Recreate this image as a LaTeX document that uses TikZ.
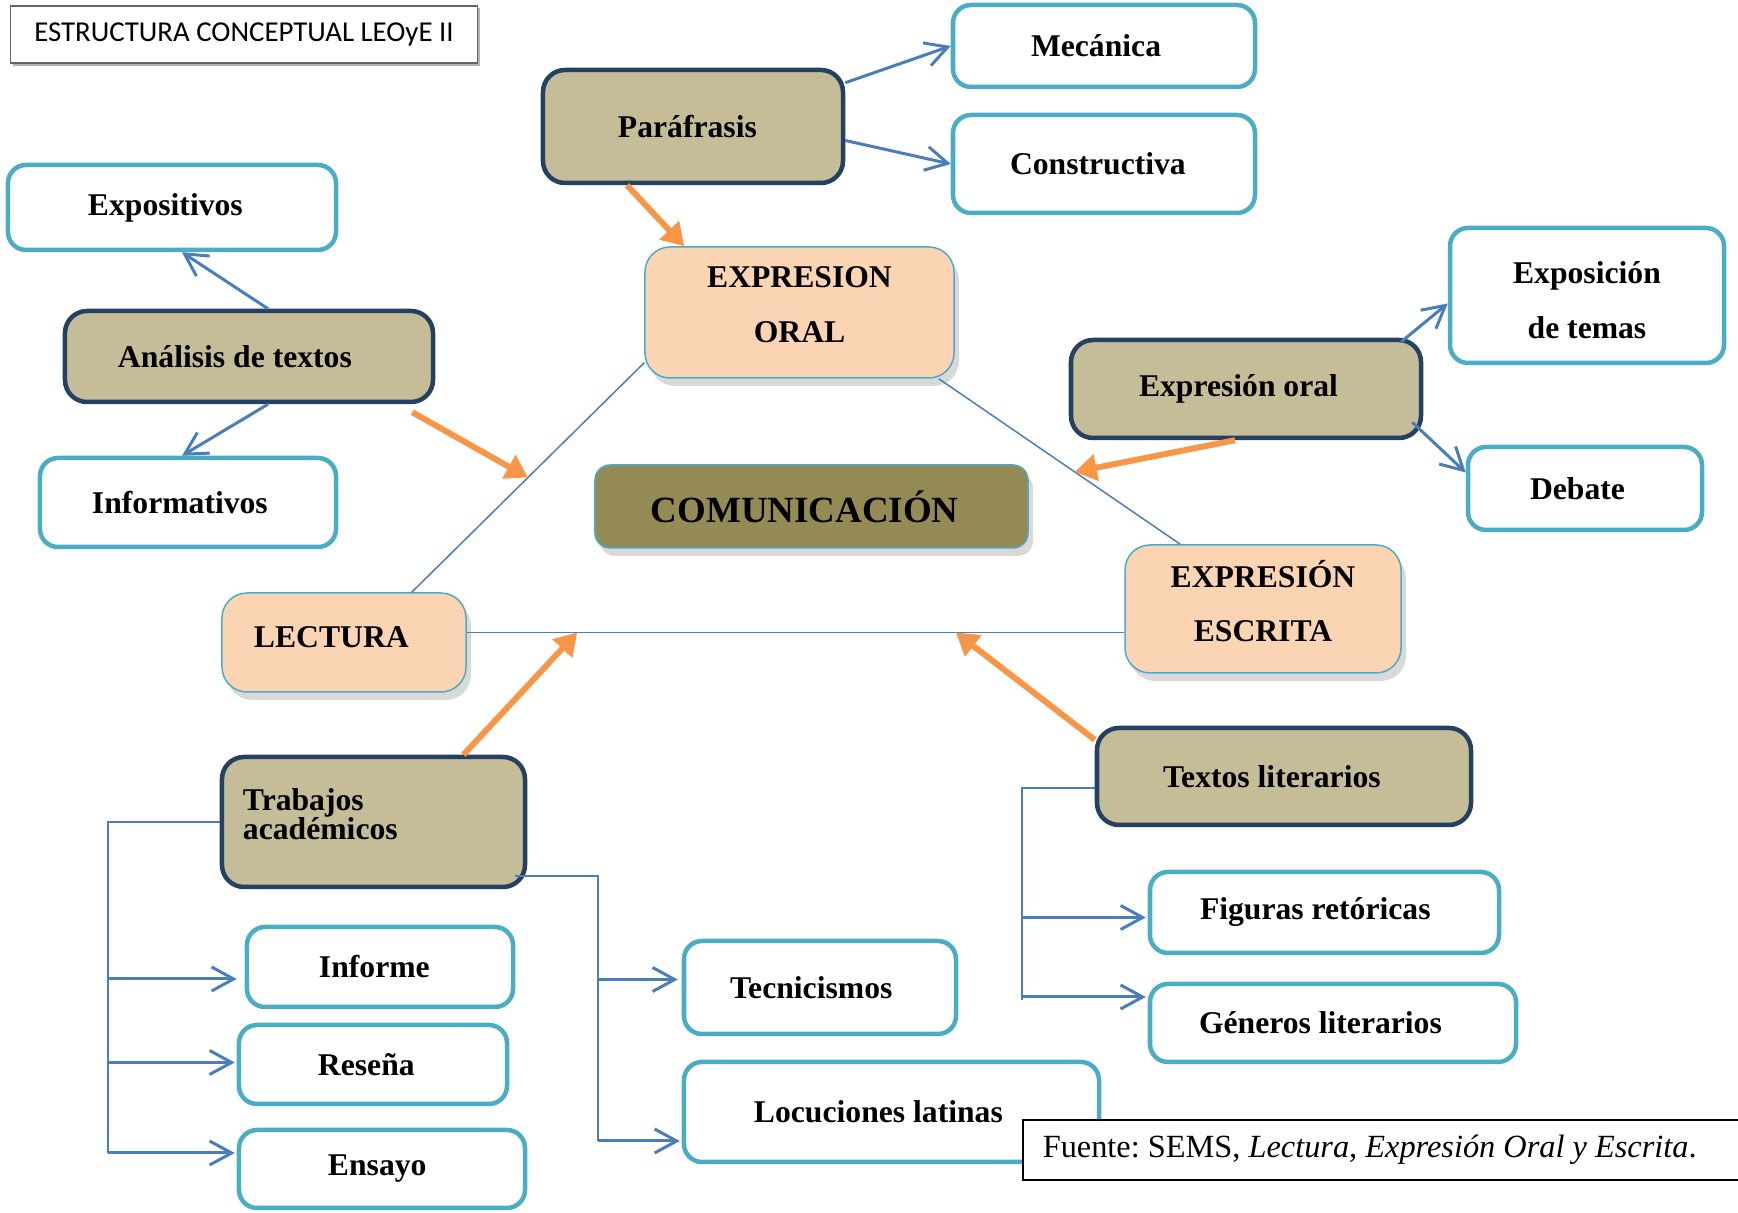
\documentclass[tikz,border=0pt]{standalone}
\usepackage{fontspec}
\setmainfont{Liberation Serif}
\newfontfamily\titleFont{Carlito}
\usepackage{tikz}
\usetikzlibrary{positioning,calc,shadows,arrows.meta}
\definecolor{leafBlue}{RGB}{75,172,198}
\definecolor{tanFill}{RGB}{196,189,151}
\definecolor{navyLine}{RGB}{36,64,98}
\definecolor{peachFill}{RGB}{251,212,180}
\definecolor{oliveFill}{RGB}{148,138,84}
\definecolor{lineBlue}{RGB}{74,126,187}
\definecolor{arrowOrange}{RGB}{247,150,70}
\tikzstyle{diagram} = [x = 0.01cm, y = -0.01cm]
\tikzstyle{boxText} = [font=\fontsize{9}{11}\selectfont\bfseries, align=flush left, inner sep=0pt]
\tikzstyle{twoLines} = [font=\fontsize{9}{15.6}\selectfont\bfseries, align=flush center]
\tikzstyle{raiseText} = [text depth=20.2pt]
\tikzstyle{leafStyle} = [boxText, draw=leafBlue, fill=white, line width=0.045cm, rounded corners=0.18cm]
\tikzstyle{topicStyle} = [boxText, draw=navyLine, fill=tanFill, line width=0.045cm, rounded corners=0.22cm]
\tikzstyle{skillStyle} = [boxText, draw=leafBlue, fill=peachFill, line width=0.015cm, rounded corners=0.25cm, drop shadow={opacity=0.3, shadow xshift=0.05cm, shadow yshift=-0.08cm}]
\tikzstyle{centerStyle} = [skillStyle, fill=oliveFill, font=\fontsize{10.5}{12}\selectfont\bfseries, rounded corners=0.15cm]
\tikzstyle{triLine} = [draw=lineBlue, line width=0.015cm]
\tikzstyle{bracketLine} = [draw=lineBlue, line width=0.02cm]
\tikzstyle{blueArrow} = [draw=lineBlue, line width=0.03cm, -{Straight Barb[length=0.22cm, width=0.24cm]}]
\tikzstyle{orangeArrow} = [draw=arrowOrange, line width=0.06cm, -{Triangle[length=0.22cm, width=0.26cm]}]
% style, name, x, y, width, height, text inset, text
\newcommand{\placeBox}[8]{
  \pgfmathsetmacro{\boxTextWidth}{(#5 - 2 * #7) * 0.01}
  \pgfmathsetmacro{\boxInset}{#7 * 0.01}
  \node[#1, minimum width=#5*0.01cm, minimum height=#6*0.01cm, text width=\boxTextWidth cm, inner xsep=\boxInset cm] (#2) at (#3,#4) {#8};
}

\begin{document}
\begin{tikzpicture}[diagram]
  \useasboundingbox (0,0) rectangle (1738,1213);

  \node[draw=black!60, fill=white, line width=0.012cm, minimum width=4.66cm, minimum height=0.57cm,
        font=\titleFont\fontsize{8.2}{10}\selectfont,
        drop shadow={opacity=0.6, shadow xshift=0.025cm, shadow yshift=-0.025cm}]
        (title) at (244,34.5) {ESTRUCTURA CONCEPTUAL LEOyE II};

  % expresion oral
  \placeBox{topicStyle}{parafrasis}{693}{126.5}{300}{113}{75}{Paráfrasis}
  \placeBox{leafStyle}{mecanica}{1104}{46}{302}{82}{78}{Mecánica}
  \placeBox{leafStyle}{constructiva}{1104}{164}{302}{98}{57}{Constructiva}
  \placeBox{skillStyle, twoLines, raiseText}{oralSkill}{799.5}{312.5}{309}{131}{20}{EXPRESION\\ORAL}

  % lectura
  \placeBox{leafStyle}{expositivos}{172}{207.5}{328}{85}{80}{Expositivos}
  \placeBox{topicStyle}{analisis}{249}{356.5}{368}{91}{53}{Análisis de textos}
  \placeBox{leafStyle}{informativos}{188}{502.5}{296}{89}{52}{Informativos}
  \placeBox{skillStyle, text depth=3.2pt}{lectura}{344}{642.5}{244}{99}{32}{LECTURA}

  \placeBox{centerStyle}{comunicacion}{811.5}{506.5}{433}{83}{56}{COMUNICACIÓN}

  % expresion escrita
  \placeBox{skillStyle, twoLines, raiseText}{escrita}{1263}{609}{276}{128}{20}{EXPRESIÓN\\ESCRITA}
  \placeBox{topicStyle}{expresionOral}{1246}{389}{350}{98}{68}{Expresión oral}
  \placeBox{leafStyle, twoLines, text depth=13pt}{exposicion}{1587}{295.5}{274}{135}{20}{Exposición\\de temas}
  \placeBox{leafStyle}{debate}{1585}{488.5}{234}{83}{62}{Debate}
  \placeBox{topicStyle}{textosLiterarios}{1284}{776.5}{374}{97}{66}{Textos literarios}
  \placeBox{leafStyle}{figuras}{1324.5}{912.5}{349}{81}{50}{Figuras retóricas}
  \placeBox{leafStyle}{generos}{1333}{1023}{366}{78}{49}{Géneros literarios}

  % trabajos academicos
  \placeBox{topicStyle, font=\fontsize{9}{8.2}\selectfont\bfseries, text depth=12.8pt}{trabajos}{373.5}{822}{303}{130}{21}{Trabajos\\académicos}
  \placeBox{leafStyle}{informe}{380}{967}{266}{80}{72}{Informe}
  \placeBox{leafStyle}{resena}{373}{1064.5}{268}{79}{79}{Reseña}
  \placeBox{leafStyle}{ensayo}{382}{1169}{286}{78}{89}{Ensayo}
  \placeBox{leafStyle}{tecnicismos}{820}{987.5}{272}{93}{46}{Tecnicismos}
  \placeBox{leafStyle}{locuciones}{891.5}{1112}{415}{100}{70}{Locuciones latinas}

  % triangle
  \draw[triLine] ($(lectura.north east)+(-55,0)$) -- coordinate[pos=0.5] (leftSide) ($(oralSkill.south west)+(0,-16)$);
  \draw[triLine] ($(oralSkill.south east)+(-16,0)$) -- coordinate[pos=0.563] (rightSide) ($(escrita.north west)+(56,0)$);
  \draw[triLine] ($(lectura.east)+(0,-10)$) coordinate (baseLeft) -- coordinate[pos=0.168] (baseA) coordinate[pos=0.744] (baseB) (baseLeft -| escrita.west);

  \draw[blueArrow] ($(parafrasis.north east)+(0,15)$) -- (mecanica.west);
  \draw[blueArrow] ($(parafrasis.east)+(0,14)$) -- (constructiva.west);
  \draw[blueArrow] ($(analisis.north)+(19,0)$) -- ($(expositivos.south)+(10,0)$);
  \draw[blueArrow] ($(analisis.south)+(19,0)$) -- ($(informativos.north)+(-6,0)$);
  \draw[blueArrow] ($(expresionOral.north east)+(-22,4)$) -- ($(exposicion.west)+(0,8)$);
  \draw[blueArrow] ($(expresionOral.south east)+(-11,-18)$) -- ($(debate.west)+(0,-16)$);

  % brackets
  \coordinate (informeIn) at ($(informe.west)+(-8,12)$);
  \coordinate (resenaIn) at ($(resena.west)+(-2,-2)$);
  \coordinate (ensayoIn) at ($(ensayo.west)+(-2,-16)$);
  \draw[bracketLine] (trabajos.west) -- ++(-112,0) coordinate (trabajosLeft) -- (trabajosLeft |- ensayoIn);
  \foreach \target in {informeIn, resenaIn, ensayoIn}
    \draw[blueArrow] (trabajosLeft |- \target) -- (\target);

  \coordinate (tecnicismosIn) at ($(tecnicismos.west)+(-4,-8)$);
  \coordinate (locucionesIn) at ($(locuciones.west)+(-2,29)$);
  \draw[bracketLine] ($(trabajos.south east)+(-12,-13)$) -- ++(83,0) coordinate (trabajosRight) -- (trabajosRight |- locucionesIn);
  \foreach \target in {tecnicismosIn, locucionesIn}
    \draw[blueArrow] (trabajosRight |- \target) -- (\target);

  \coordinate (figurasIn) at ($(figuras.west)+(-2,5)$);
  \coordinate (generosIn) at ($(generos.west)+(-2,-26)$);
  \draw[bracketLine] ($(textosLiterarios.west)+(0,12)$) -- ++(-73,0) coordinate (textosLeft) -- ($(textosLeft |- generosIn)+(0,3)$);
  \foreach \target in {figurasIn, generosIn}
    \draw[blueArrow] (textosLeft |- \target) -- (\target);

  % orange arrows
  \draw[orangeArrow] ($(parafrasis.south)+(-66,0)$) -- ($(oralSkill.north west)+(40,0)$);
  \draw[orangeArrow] ($(analisis.south east)+(-23,8)$) -- (leftSide);
  \draw[orangeArrow] ($(trabajos.north)+(90,0)$) -- (baseA);
  \draw[orangeArrow] ($(textosLiterarios.north west)+(0,14)$) -- (baseB);
  \draw[orangeArrow] ($(expresionOral.south)+(-11,0)$) -- (rightSide);

  \node[draw=black, fill=white, line width=0.015cm, anchor=west, minimum height=0.6cm, text width=6.83cm,
        inner xsep=0.2cm, align=flush left, font=\fontsize{9.2}{11}\selectfont\frenchspacing]
        (fuente) at (1022,1150) {Fuente: SEMS, \textit{Lectura, Expresión Oral y Escrita}.};
\end{tikzpicture}
\end{document}
